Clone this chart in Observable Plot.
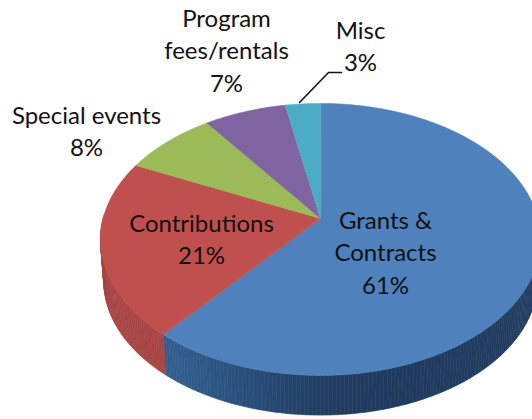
<!DOCTYPE html>
<html><head><meta charset="utf-8">
<style>html,body{margin:0;padding:0;background:#fff}svg{display:block}</style>
<script src="https://cdn.jsdelivr.net/npm/d3@7"></script>
<script src="https://cdn.jsdelivr.net/npm/@observablehq/plot@0.6"></script>
</head><body><div id="chart"></div>
<script>
const categories = ["Grants & Contracts", "Contributions", "Special events", "Program fees/rentals", "Misc"];
const shares = [61, 21, 8, 7, 3];
const sliceColors = ["#4f81bd", "#c0504d", "#9bbb59", "#8064a2", "#4bacc6"];
const labelLines = [["Grants &","Contracts","61%"],["Contributions","21%"],["Special events","8%"],["Program","fees/rentals","7%"],["Misc","3%"]];
const labelAt = [[385,253],[201,240],[86,132],[226,51],[360,47]];

// tilted-disc geometry
const cx=320, cy=218, A=217.4, B=132.8, k=0.154;
const proj=(t,o={})=>{ // t: share fraction clockwise from the top
  const a=t*2*Math.PI,u=Math.sin(a),v=-Math.cos(a),w=1-k*v;
  const s=o.s??1;
  return [cx+A*s*u/w, cy+(o.d??0)+B*s*v/w];
};
const slices=[], sides=[];
let acc=0;
shares.forEach((p,i)=>{
  const t0=acc/100,t1=(acc+p)/100;
  slices.push({x:cx,y:cy,i});
  const n=Math.ceil(p*3);
  for(let j=0;j<=n;j++){const q=proj(t0+(t1-t0)*j/n);slices.push({x:q[0],y:q[1],i});}
  // side wall, only where it faces the viewer
  const m=Math.ceil(p*4);
  for(let j=0;j<m;j++){
    const a=t0+(t1-t0)*j/m,b=t0+(t1-t0)*(j+1)/m,mid=(a+b)/2;
    if(Math.cos(mid*2*Math.PI)>-0.01 && (mid<0.245||mid>0.755)) continue;
    const p0=proj(a),p1=proj(b),p2=proj(b,{d:42,s:0.985}),p3=proj(a,{d:42,s:0.985});
    const f=(p0[0]-100)/432;
    const base=i===0?d3.interpolateRgbBasis(["#3a6899","#2f5a8a","#1f3a5e","#1f3a5e","#223d60"])(f):d3.rgb(sliceColors[i]).darker(0.4).formatHex();
    const id=i+"-"+j;
    [p0,p1,p2,p3,p0].forEach(q=>sides.push({x:q[0],y:q[1],id,c:base}));
  }
  acc+=p;
});
const labels=[];
labelLines.forEach((ls,i)=>ls.forEach((t,j)=>labels.push({t,x:labelAt[i][0],y:labelAt[i][1]+(j-(ls.length-1)/2)*32.5,cat:categories[i]})));
const leader=[{x:299,y:102},{x:328,y:72},{x:341,y:72}];

const plot=Plot.plot({
  width:532,height:419,margin:0,
  x:{domain:[0,532],range:[0,532],axis:null},
  y:{domain:[0,419],range:[0,419],axis:null},
  color:{type:"identity"},
  style:{background:"#fff"},
  marks:[
    Plot.line(sides,{x:"x",y:"y",z:"id",fill:"c",stroke:"c",strokeWidth:0.6,curve:"linear-closed"}),
    Plot.line(slices,{x:"x",y:"y",z:"i",fill:d=>sliceColors[d.i],stroke:d=>sliceColors[d.i],strokeWidth:0.5,curve:"linear-closed"}),
    Plot.line(leader,{x:"x",y:"y",stroke:"#111",strokeWidth:1.6}),
    Plot.text(labels,{x:"x",y:"y",text:"t",fontSize:24,fontFamily:"Lato",fill:"#111",textAnchor:"middle",lineAnchor:"middle"})
  ]
});
document.getElementById("chart").append(plot);
</script></body></html>
